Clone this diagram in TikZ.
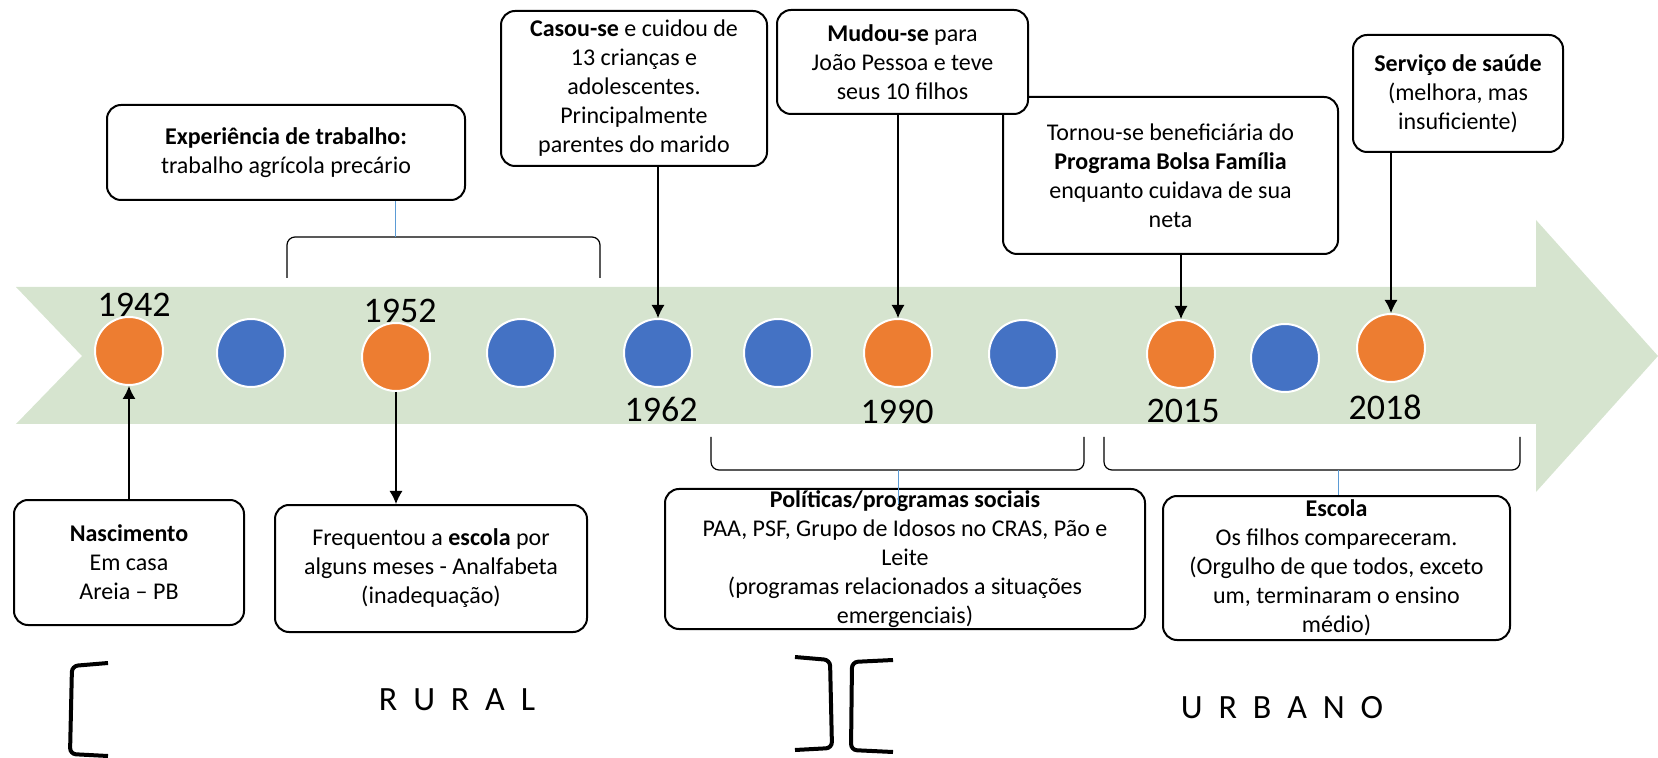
\documentclass[tikz,border=0pt]{standalone}
\usepackage{fontspec}
\setmainfont{Carlito}
\usetikzlibrary{arrows.meta}
\definecolor{bandgreen}{RGB}{214,228,207}
\definecolor{evorange}{RGB}{237,125,49}
\definecolor{evblue}{RGB}{68,114,196}
\definecolor{linkblue}{RGB}{91,155,213}

\begin{document}
\begin{tikzpicture}[x=0.5pt, y=-0.5pt,
    box/.style={draw, fill=white, rounded corners=7pt, line width=1pt, align=center, inner sep=0pt, font=\fontsize{12}{14.5}\selectfont},
    ev/.style={circle, draw=white, line width=1pt, minimum size=34pt, inner sep=0pt},
    yr/.style={font=\fontsize{18}{20}\selectfont},
    zone/.style={font=\fontsize{17}{19}\selectfont\addfontfeature{LetterSpace=24}},
    link/.style={line width=0.6pt},
    >={Latex[length=6.5pt,width=6.5pt]}
]
\useasboundingbox (0,0) rectangle (1658,758);

\fill[bandgreen] (16,287) -- (1536,287) -- (1536,220) -- (1658,356) -- (1536,492)
    -- (1536,424) -- (16,424) -- (82,356) -- cycle;

\node[ev, fill=evorange] (c1) at (129,351) {};
\node[ev, fill=evblue] (c2) at (251,353) {};
\node[ev, fill=evorange] (c3) at (396,357) {};
\node[ev, fill=evblue] (c4) at (521,353) {};
\node[ev, fill=evblue] (c5) at (658,353) {};
\node[ev, fill=evblue] (c6) at (778,353) {};
\node[ev, fill=evorange] (c7) at (898,353) {};
\node[ev, fill=evblue] (c8) at (1023,354) {};
\node[ev, fill=evorange] (c9) at (1181,354) {};
\node[ev, fill=evblue] (c10) at (1285,358) {};
\node[ev, fill=evorange] (c11) at (1391,348) {};

\node[yr] (y1942) at (134,305) {1942};
\node[yr] (y1952) at (400,311) {1952};
\node[yr] (y1962) at (661,409) {1962};
\node[yr] (y1990) at (897,412) {1990};
\node[yr] (y2015) at (1183,411) {2015};
\node[yr] (y2018) at (1385,407) {2018};

\node[box, minimum width=179pt, minimum height=47.5pt] (exper) at (286,152.5)
    {\textbf{Experiência de trabalho:}\\trabalho agrícola precário};
\node[box, minimum width=133pt, minimum height=77.5pt] (casou) at (634,88.5)
    {\textbf{Casou-se} e cuidou de\\13 crianças e\\adolescentes.\\Principalmente\\parentes do marido};
\node[box, minimum width=167.5pt, minimum height=78.5pt] (tornou) at (1170.5,175.5)
    {Tornou-se beneficiária do\\\textbf{Programa Bolsa Família}\\enquanto cuidava de sua\\neta};
\node[box, minimum width=125.5pt, minimum height=52pt] (mudou) at (902.5,62)
    {\textbf{Mudou-se} para\\João Pessoa e teve\\seus 10 filhos};
\node[box, minimum width=105pt, minimum height=58.5pt] (servico) at (1458,93.5)
    {\textbf{Serviço de saúde}\\(melhora, mas\\insuficiente)};

\node[box, minimum width=115pt, minimum height=62.5pt] (nasc) at (129,562.5)
    {\textbf{Nascimento}\\Em casa\\Areia – PB};
\node[box, minimum width=156pt, minimum height=63.5pt] (freq) at (431,568.5)
    {Frequentou a \textbf{escola} por\\alguns meses - Analfabeta\\(inadequação)};
\node[box, minimum width=240pt, minimum height=70pt] (polit) at (905,559)
    {\textbf{Políticas/programas sociais}\\PAA, PSF, Grupo de Idosos no CRAS, Pão e\\Leite\\(programas relacionados a situações\\emergenciais)};
\node[box, minimum width=173.5pt, minimum height=72pt] (escola) at (1336.5,568)
    {\textbf{Escola}\\Os filhos compareceram.\\(Orgulho de que todos, exceto\\um, terminaram o ensino\\médio)};

\draw[->, link] (casou.south -| c5) -- (c5.north);
\draw[->, link] (mudou.south -| c7) -- (c7.north);
\draw[->, link] (tornou.south -| c9) -- (c9.north);
\draw[->, link] (servico.south -| c11) -- (c11.north);
\draw[->, link] (nasc.north -| c1) -- (c1.south);
\draw[->, link] (c3.south) -- (c3.south |- freq.north);

\draw[link, rounded corners=4pt] (287,278) -- (287,237) -- (600,237) -- (600,278);
\coordinate (workbr) at (395,237);
\draw[linkblue] (exper.south -| workbr) -- (workbr);

\draw[link, rounded corners=4pt] (711,437) -- (711,470) -- (1084,470) -- (1084,437);
\coordinate (socbr) at (898,470);
\draw[linkblue] (socbr) -- ([yshift=-8pt]socbr |- polit.north);

\draw[link, rounded corners=4pt] (1104,437) -- (1104,470) -- (1520,470) -- (1520,437);
\coordinate (schbr) at (1338,470);
\draw[linkblue] (schbr) -- (schbr |- escola.north);

\draw[line width=2pt, rounded corners=3pt] (108,663) -- (72,666) -- (70,754) -- (108,756);
\draw[line width=2pt, rounded corners=3pt] (795,657) -- (830,660) -- (832,748) -- (795,750);
\draw[line width=2pt, rounded corners=3pt] (893,660) -- (852,662) -- (851,750) -- (893,752);

\node[zone] (rural) at (457,700) {R U R A L};
\node[zone] (urbano) at (1282,708) {U R B A N O};
\end{tikzpicture}
\end{document}
